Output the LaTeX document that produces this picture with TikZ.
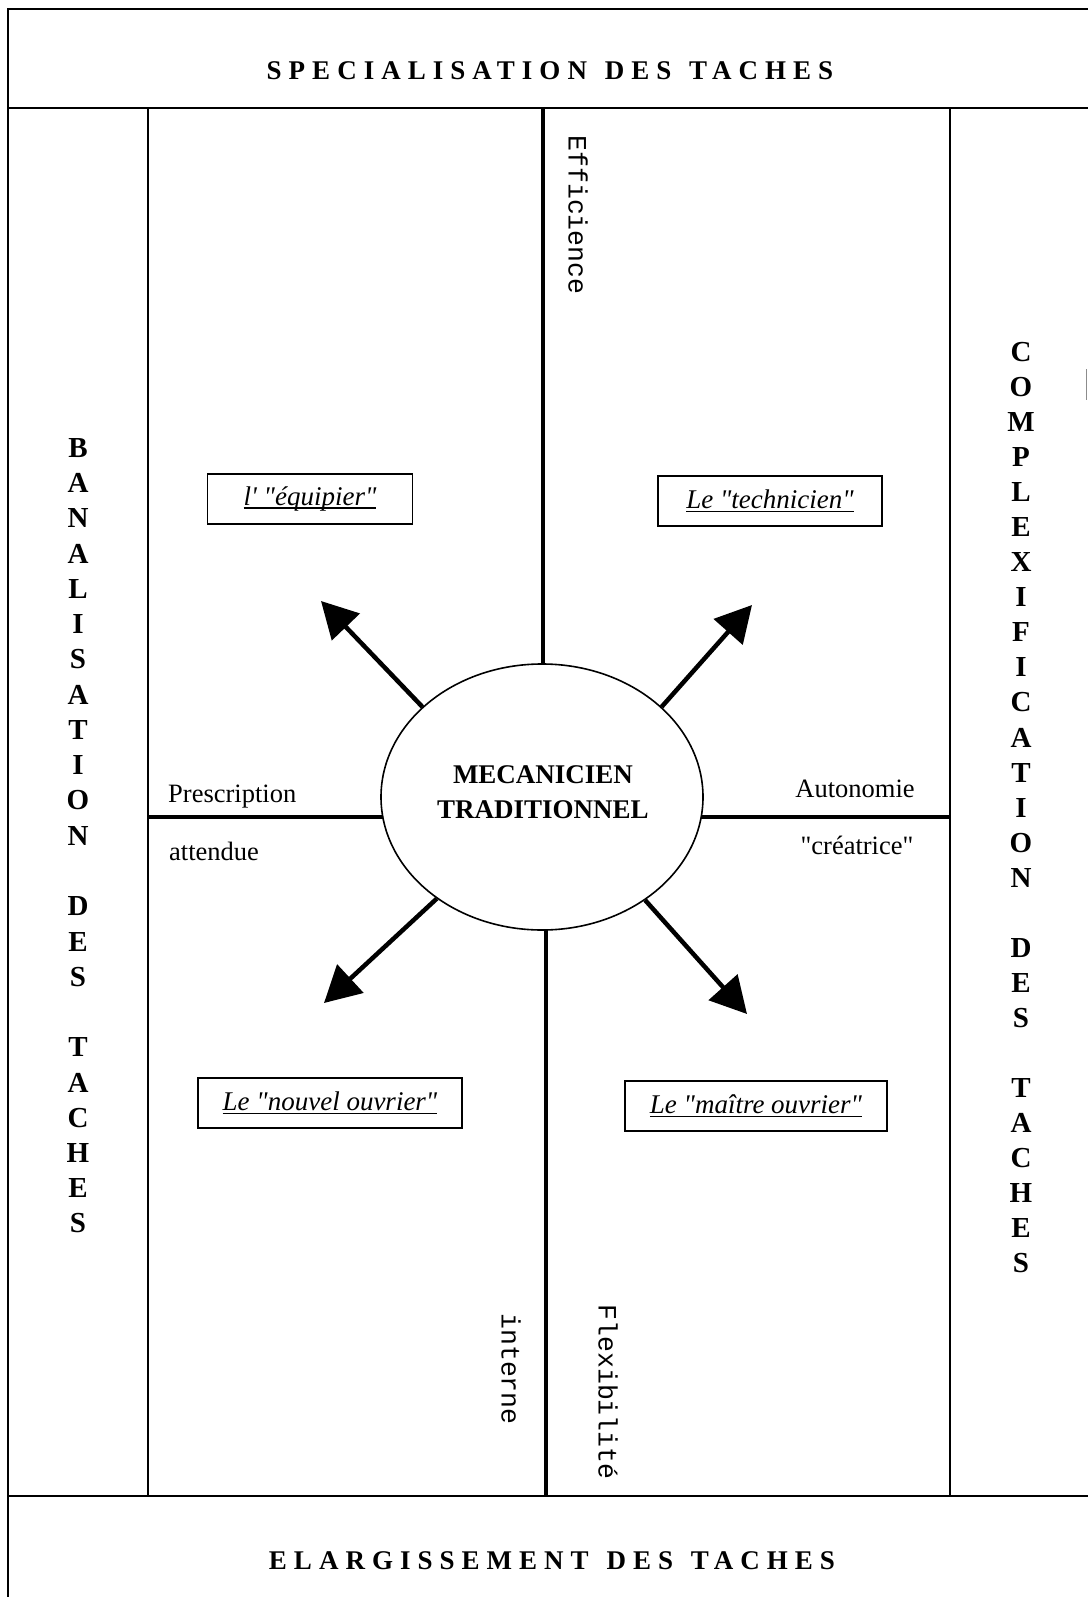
\documentclass[tikz,border=0pt]{standalone}
\usepackage{fontspec}
\setmainfont{Liberation Serif}[Ligatures=TeXOff]
\newfontfamily\monof{Liberation Mono}
\newfontfamily\titlef[LetterSpace=26]{Liberation Serif}
\usetikzlibrary{shapes.geometric,arrows.meta,calc}
\pgfdeclarelayer{bg}
\pgfsetlayers{bg,main}

% underlined label: a rule just below the baseline, as wide as the text
\newsavebox\ulsave
\newcommand\ultext[1]{\sbox\ulsave{#1}\rlap{\rule[-3.5pt]{\wd\ulsave}{1.6pt}}\usebox\ulsave}
% wider gap between spaced-out capital words
\newcommand\wgap{\hspace{4pt} }

\tikzset{
  frameline/.style={line width=2pt},
  colline/.style={line width=2pt},
  axisline/.style={line width=3.5pt},
  rolebox/.style={draw, line width=1.6pt, minimum height=50pt, inner sep=0pt,
    font=\fontsize{27}{32}\selectfont\itshape},
  sidel/.style={font=\fontsize{29}{34}\selectfont\bfseries, inner sep=0pt},
  band/.style={font=\titlef\fontsize{27}{32}\selectfont\bfseries, inner sep=0pt},
  pole/.style={font=\fontsize{26.5}{32}\selectfont, inner sep=0pt},
  axlbl/.style={font=\monof\fontsize{26.5}{32}\selectfont, rotate=-90, inner sep=0pt},
  arr/.style={line width=4.5pt, -{Triangle[length=36pt,width=38pt]}},
}

\begin{document}
\begin{tikzpicture}[x=1pt,y=-1pt]
\useasboundingbox (0,0) rectangle (1088,1597);

% frame corners and band limits
\coordinate (ftl) at (8,9);
\coordinate (ftr) at (1088,9);
\coordinate (fbl) at (8,1597);
\coordinate (bandT) at (8,108);
\coordinate (bandB) at (8,1496);

% outer frame and bands
\draw[frameline] (fbl) -- (ftl) -- (ftr);
\draw[frameline] (bandT) -- (1088,108);
\draw[frameline] (bandB) -- (1088,1496);
\draw[line width=1pt, black!45] (1086,369) -- (1086,400);

% side columns
\draw[colline] (148,108) -- (148,1496);
\draw[colline] (950,108) -- (950,1496);

% central figure
\node[draw, ellipse, line width=1.6pt, fill=white, minimum width=322pt,
      minimum height=266pt, inner sep=0pt] (mec) at (542,797) {};
\node[font=\fontsize{27}{35}\selectfont\bfseries, align=center, inner sep=0pt]
      (mectxt) at (543,792) {MECANICIEN\\TRADITIONNEL};

% axes behind the ellipse
\begin{pgfonlayer}{bg}
  \draw[axisline] (543,108) -- (543,797);
  \draw[axisline] (546,797) -- (546,1496);
  \draw[axisline] (148,817) -- (950,817);
\end{pgfonlayer}

% band titles
\node[band] (topband) at (550,71) {SPECIALISATION\wgap DES\wgap TACHES};
\node[band] (botband) at (552,1561) {ELARGISSEMENT\wgap DES\wgap TACHES};

% vertical side titles
\foreach \c [count=\i from 0] in {B,A,N,A,L,I,S,A,T,I,O,N,{},D,E,S,{},T,A,C,H,E,S}
  \node[sidel] (L\i) at (78,448+\i*35.25) {\c};
\foreach \c [count=\i from 0] in {C,O,M,P,L,E,X,I,F,I,C,A,T,I,O,N,{},D,E,S,{},T,A,C,H,E,S}
  \node[sidel] (R\i) at (1021,352+\i*35.05) {\c};

% axis labels
\node[axlbl] (effic) at (578,215) {Efficience};
\node[axlbl] (intern) at (511,1369) {interne};
\node[axlbl] (flexi) at (608,1392) {Flexibilité};
\node[pole, anchor=base west] (presc) at (168,802) {Prescription};
\node[pole, anchor=base west] (attend) at (169,860) {attendue};
\node[pole, anchor=base] (auton) at (855,797) {Autonomie};
\node[pole, anchor=base] (creat) at (857,854) {"créatrice"};

% the four profiles
\node[rolebox, minimum width=205pt] (equip) at (310,499) {\ultext{l' "équipier"}};
\node[rolebox, minimum width=224pt] (techn) at (770,501) {\ultext{Le "technicien"}};
\node[rolebox, minimum width=264pt] (nouv) at (330,1103) {\ultext{Le "nouvel ouvrier"}};
\node[rolebox, minimum width=262pt] (maitre) at (756,1106) {\ultext{Le "maître ouvrier"}};

% arrows leaving the traditional mechanic
\coordinate (tipUL) at (321,601);
\coordinate (tipUR) at (752,605);
\coordinate (tipLL) at (324,1003);
\coordinate (tipLR) at (747,1014);
\draw[arr] (mec.143) -- (tipUL);
\draw[arr] (mec.37.5) -- (tipUR);
\draw[arr] (mec.224) -- (tipLL);
\draw[arr] (mec.315) -- (tipLR);
\end{tikzpicture}
\end{document}
